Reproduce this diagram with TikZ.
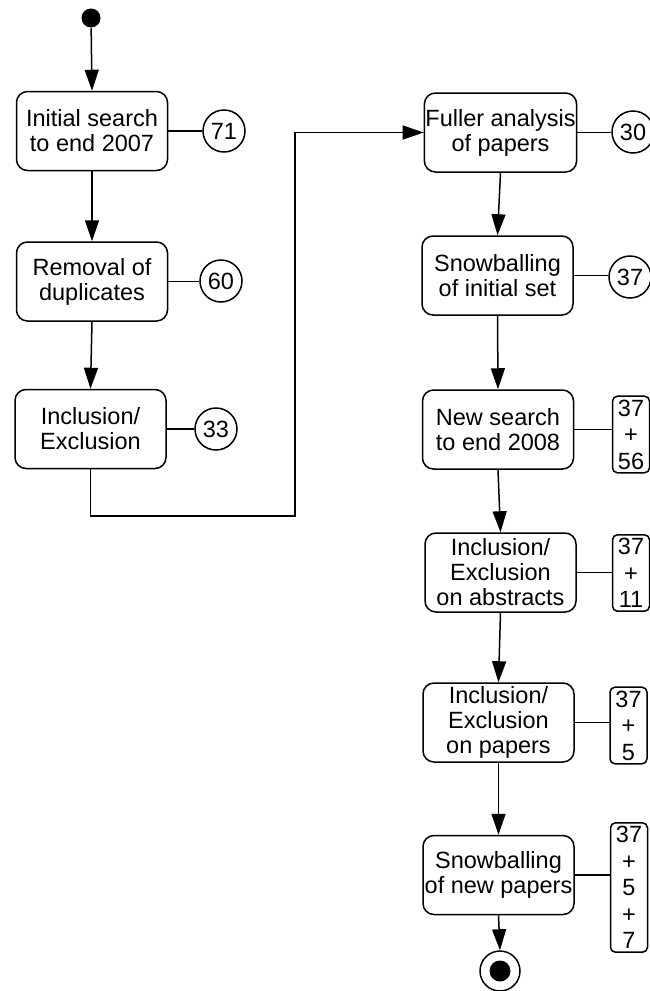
\documentclass[tikz,border=0pt]{standalone}
\usepackage{fontspec}
\setmainfont{Liberation Sans}
\usetikzlibrary{arrows.meta}

\begin{document}
\begin{tikzpicture}[x = 1pt, y = -1pt, line width = 1.5pt, font=\fontsize{23.5}{25}\selectfont]
	\tikzstyle{stepStyle} = [shape = rectangle, rounded corners = 11pt, draw, minimum width = 151pt, minimum height = 79pt, inner sep = 1pt, align = center]
	\tikzstyle{countStyle} = [shape = circle, draw, minimum size = 42pt, inner sep = 0pt]
	\tikzstyle{tallyStyle} = [shape = rectangle, rounded corners = 5pt, draw, minimum width = 37pt, inner xsep = 1.5pt, inner ysep = 3.5pt, align = center, font = \fontsize{23.5}{26.5}\selectfont]
	\tikzstyle{flowStyle} = [-{Triangle[length = 21pt, width = 14pt]}]
	\useasboundingbox (0, 0) rectangle (649, 991);
	\node[shape = circle, fill, minimum size = 19pt, inner sep = 0pt] (start) at (91, 18) {};
	\node[style = stepStyle] (s0) at (92, 131) {Initial search\\to end 2007};
	\node[style = stepStyle] (s1) at (92, 281.5) {Removal of\\duplicates};
	\node[style = stepStyle] (s2) at (90.5, 429) {Inclusion/\\Exclusion};
	\node[style = stepStyle] (f0) at (500.5, 132.5) {Fuller analysis\\of papers};
	\node[style = stepStyle] (f1) at (497.5, 275.5) {Snowballing\\of initial set};
	\node[style = stepStyle] (f2) at (498, 429.5) {New search\\to end 2008};
	\node[style = stepStyle] (f3) at (500.5, 572.5) {Inclusion/\\Exclusion\\on abstracts};
	\node[style = stepStyle] (f4) at (498.5, 722.5) {Inclusion/\\Exclusion\\on papers};
	\node[style = stepStyle] (f5) at (498.5, 875) {Snowballing\\of new papers};
	\node[shape = circle, draw, minimum size = 40pt, inner sep = 0pt] (stop) at (500, 971) {};
	\node[shape = circle, fill, minimum size = 21pt, inner sep = 0pt] (stopdot) at (stop) {};
	\node[style = countStyle] (c0) at (224, 131) {71};
	\node[style = countStyle] (c1) at (221, 281) {60};
	\node[style = countStyle] (c2) at (216, 429) {33};
	\node[style = countStyle] (c3) at (633, 132) {30};
	\node[style = countStyle] (c4) at (630, 277) {37};
	\node[style = tallyStyle] (b0) at (631, 434.5) {37\\+\\56};
	\node[style = tallyStyle] (b1) at (631, 573) {37\\+\\11};
	\node[style = tallyStyle] (b2) at (628.5, 725.5) {37\\+\\5};
	\node[style = tallyStyle] (b3) at (629, 887.5) {37\\+\\5\\+\\7};
	\coordinate (k0) at (295, 516);
	\draw[style = flowStyle] (start) -- (s0.north);
	\draw[style = flowStyle] (s0.south) -- (s1.north);
	\draw[style = flowStyle] (s1.south) -- (s2.north);
	\draw[style = flowStyle] (s2.south) |- (k0) |- (f0.west);
	\draw[style = flowStyle] (f0.south) -- (f1.north);
	\draw[style = flowStyle] (f1.south) -- (f2.north);
	\draw[style = flowStyle] (f2.south) -- (f3.north);
	\draw[style = flowStyle] (f3.south) -- (f4.north);
	\draw[style = flowStyle] (f4.south) -- (f5.north);
	\draw[style = flowStyle] (f5.south) -- (stop.north);
	\draw (s0.east) -- (s0.east -| c0.west);
	\draw (s1.east) -- (s1.east -| c1.west);
	\draw (s2.east) -- (s2.east -| c2.west);
	\draw (f0.east) -- (f0.east -| c3.west);
	\draw (f1.east) -- (f1.east -| c4.west);
	\draw (f2.east) -- (f2.east -| b0.west);
	\draw (f3.east) -- (f3.east -| b1.west);
	\draw (f4.east) -- (f4.east -| b2.west);
	\draw (f5.east) -- (f5.east -| b3.west);
\end{tikzpicture}
\end{document}
